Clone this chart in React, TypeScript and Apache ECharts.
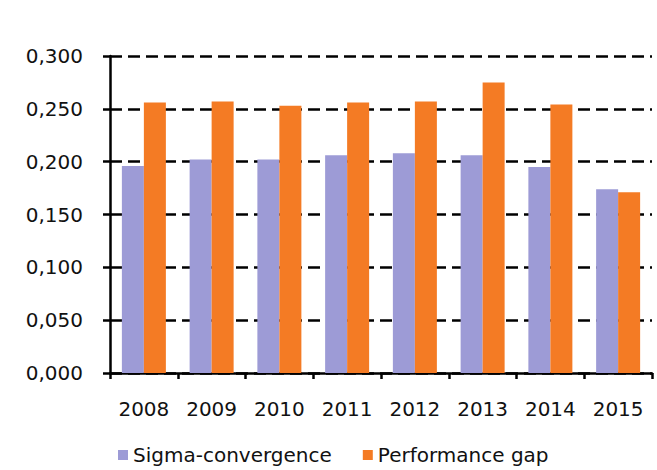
import React, { useEffect, useRef } from "react";
import * as echarts from "echarts";

const years = ["2008", "2009", "2010", "2011", "2012", "2013", "2014", "2015"];
const sigmaConvergence = [0.196, 0.202, 0.202, 0.206, 0.208, 0.206, 0.195, 0.174];
const performanceGap = [0.256, 0.257, 0.253, 0.256, 0.257, 0.275, 0.254, 0.171];
const seriesNames = ["Sigma-convergence", "Performance gap"];

export default function App() {
  const ref = useRef<HTMLDivElement>(null);
  useEffect(() => {
    if (!ref.current) return;
    const chart = echarts.init(ref.current, null, { renderer: "svg" });
    const font = "DejaVu Sans";
    chart.setOption({
      animation: false,
      backgroundColor: "#ffffff",
      textStyle: { fontFamily: font },
      grid: { left: 110, right: 5, top: 56, bottom: 97 },
      legend: {
        data: seriesNames,
        left: 113,
        top: 440,
        itemWidth: 10,
        itemHeight: 10,
        itemGap: 31,
        icon: "rect",
        textStyle: { fontFamily: font, fontSize: 20, color: "#111" },
      },
      xAxis: {
        type: "category",
        data: years,
        axisLine: { lineStyle: { color: "#000", width: 2.5 } },
        axisTick: { show: true, interval: 0, length: 6, lineStyle: { color: "#000", width: 2.5 } },
        axisLabel: { fontFamily: font, fontSize: 20, color: "#111", margin: 26, interval: 0 },
      },
      yAxis: {
        type: "value",
        min: 0,
        max: 0.3,
        interval: 0.05,
        axisLine: { show: true, lineStyle: { color: "#000", width: 2.5 } },
        axisTick: { show: true, length: 7, lineStyle: { color: "#000", width: 2.5 } },
        axisLabel: {
          fontFamily: font,
          fontSize: 20,
          color: "#111",
          margin: 27,
          formatter: (v: number) => v.toFixed(3).replace(".", ","),
        },
        splitLine: { show: true, lineStyle: { color: "#000", width: 2.5, type: [12, 6] } },
      },
      series: [
        {
          name: seriesNames[0],
          type: "bar",
          data: sigmaConvergence,
          barWidth: 22,
          barGap: "0%",
          itemStyle: { color: "#9d9bd6" },
        },
        {
          name: seriesNames[1],
          type: "bar",
          data: performanceGap,
          barWidth: 22,
          itemStyle: { color: "#f47b24" },
        },
      ],
    });
    return () => chart.dispose();
  }, []);
  return <div ref={ref} style={{ width: 657, height: 470, position: "absolute", left: 0, top: 0 }} />;
}
